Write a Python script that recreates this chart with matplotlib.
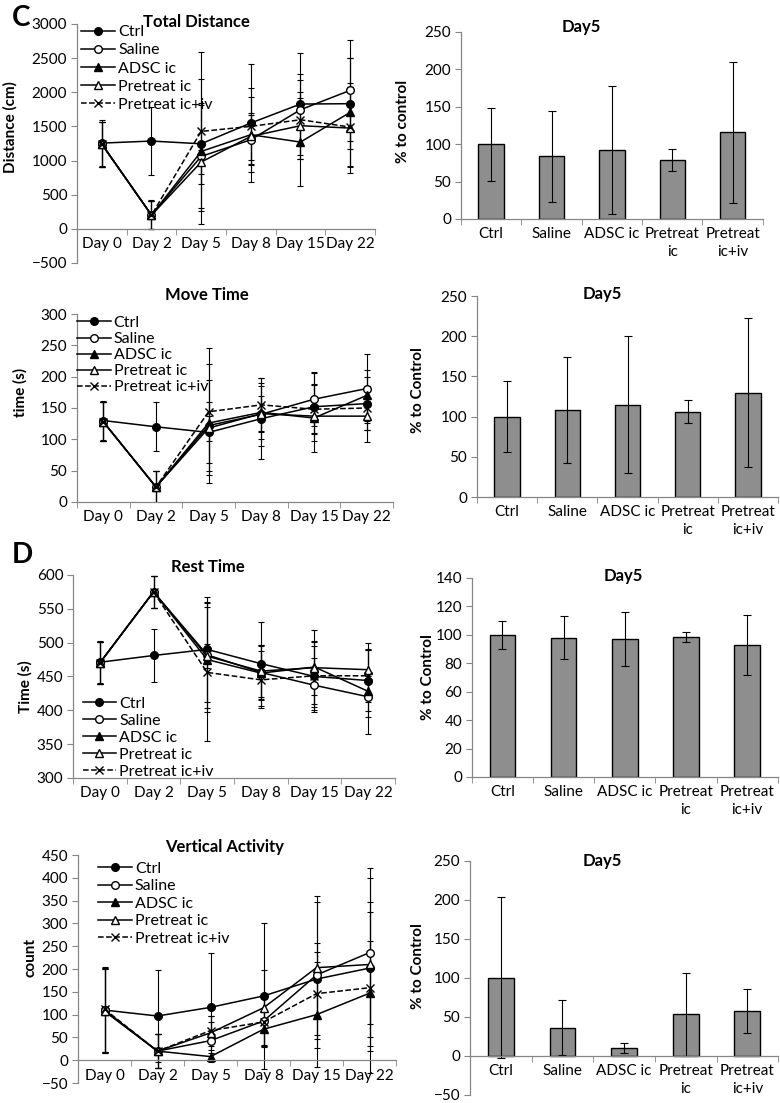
import matplotlib
matplotlib.use("Agg")
import matplotlib.pyplot as plt
import numpy as np

plt.rcParams['font.family'] = ['Lato', 'DejaVu Sans']

days = ["Day 0", "Day 2", "Day 5", "Day 8", "Day 15", "Day 22"]
groups = ["Ctrl", "Saline", "ADSC ic", "Pretreat ic", "Pretreat ic+iv"]
bar_labels = ["Ctrl", "Saline", "ADSC ic", "Pretreat\nic", "Pretreat\nic+iv"]

# total distance (cm)
td_ctrl = [1255, 1285, 1245, 1549, 1827, 1832]
td_saline = [1240, 205, 1060, 1304, 1744, 2027]
td_adsc = [1240, 200, 1133, 1378, 1270, 1705]
td_pre = [1240, 200, 977, 1353, 1510, 1475]
td_preiv = [1240, 200, 1426, 1500, 1597, 1490]
td_ctrl_err = [335, 495, 590, 870, 745, 670]
td_saline_err = [330, 210, 760, 360, 520, 745]
td_adsc_err = [330, 205, 1060, 550, 650, 790]
td_pre_err = [330, 205, 170, 350, 490, 660]
td_preiv_err = [330, 205, 1165, 560, 580, 580]

# move time (s)
mt_ctrl = [130, 120, 111, 133, 152, 157]
mt_saline = [128, 24, 122, 140, 164, 181]
mt_adsc = [128, 24, 126, 143, 134, 170]
mt_pre = [128, 24, 118, 141, 137, 137]
mt_preiv = [128, 24, 144, 155, 148, 150]
mt_ctrl_err = [31, 39, 48, 65, 55, 42]
mt_saline_err = [31, 26, 72, 50, 42, 55]
mt_adsc_err = [31, 26, 95, 42, 54, 40]
mt_pre_err = [31, 26, 20, 28, 28, 41]
mt_preiv_err = [31, 26, 101, 43, 38, 35]

# rest time (s)
rt_ctrl = [471, 481, 490, 469, 450, 444]
rt_saline = [470, 575, 482, 456, 437, 420]
rt_adsc = [470, 575, 475, 455, 464, 428]
rt_pre = [470, 575, 480, 458, 463, 460]
rt_preiv = [470, 575, 456, 445, 451, 451]
rt_ctrl_err = [31, 39, 77, 62, 45, 45]
rt_saline_err = [31, 24, 78, 40, 40, 30]
rt_adsc_err = [31, 24, 78, 40, 55, 63]
rt_pre_err = [31, 24, 18, 38, 40, 40]
rt_preiv_err = [31, 24, 102, 42, 50, 38]

# vertical activity (count)
va_ctrl = [110, 97, 116, 141, 178, 202]
va_saline = [110, 20, 43, 86, 187, 236]
va_adsc = [108, 20, 8, 68, 100, 147]
va_pre = [108, 20, 60, 115, 203, 210]
va_preiv = [112, 20, 65, 84, 146, 159]
va_ctrl_err = [93, 101, 120, 161, 80, 123]
va_saline_err = [93, 37, 40, 55, 160, 185]
va_adsc_err = [93, 37, 8, 38, 115, 115]
va_pre_err = [93, 37, 38, 83, 157, 190]
va_preiv_err = [93, 37, 33, 50, 91, 187]

# day 5, % to control
b1_vals = [100, 84, 92, 79, 116]
b1_err = [49, 61, 86, 14.5, 94.5]
b2_vals = [100, 108, 115, 106, 130]
b2_err = [44, 66, 85, 14.5, 93]
b3_vals = [100, 98, 97, 98.5, 93]
b3_err = [9.7, 15, 19, 3.3, 21]
b4_vals = [100, 36, 10, 53, 57]
b4_err = [103, 35.5, 6.7, 53, 28.4]

GREY = "#868686"
styles = [
    dict(marker='o', mfc='black', ls='-'),
    dict(marker='o', mfc='white', ls='-'),
    dict(marker='^', mfc='black', ls='-'),
    dict(marker='^', mfc='white', ls='-'),
    dict(marker='x', mfc='black', ls='--'),
]

fig = plt.figure(figsize=(7.8, 11.03), dpi=100)


def style_axes(ax, n, ylim, step):
    ax.set_xlim(-0.5, n - 0.5)
    ax.set_ylim(*ylim)
    ax.set_yticks(np.arange(ylim[0], ylim[1] + 0.1, step))
    for s in ['top', 'right']:
        ax.spines[s].set_visible(False)
    for s in ['left', 'bottom']:
        ax.spines[s].set_color(GREY)
        ax.spines[s].set_linewidth(0.9)
    if ylim[0] < 0:
        ax.spines['bottom'].set_position(('data', 0))
    ax.set_xticks(range(n))
    ax.set_xticks(np.arange(-0.5, n, 1.0), minor=True)
    ax.tick_params(axis='x', which='major', length=0, pad=6, labelsize=11)
    ax.tick_params(axis='x', which='minor', length=4, color=GREY, direction='out')
    ax.tick_params(axis='y', length=4, color=GREY, labelsize=11, pad=3)


def line_panel(rect, title, ylabel, series, errs, ylim, step, tpos, lpos, lsp, lab):
    ax = fig.add_axes(rect)
    x = np.arange(len(days))
    for vals, err, st, name in zip(series, errs, styles, groups):
        ax.errorbar(x, vals, yerr=err, color='black', lw=1.1, ls=st['ls'],
                    marker=st['marker'], mfc=st['mfc'], mec='black', ms=5.5,
                    ecolor='black', elinewidth=0.8, capsize=2.5, capthick=0.8,
                    label=name)
    style_axes(ax, len(days), ylim, step)
    ax.set_xticklabels(days)
    ax.text(tpos[0], tpos[1], title, transform=ax.transAxes, ha='center',
            va='center', fontsize=12, fontweight='bold')
    ax.set_ylabel(ylabel, fontsize=11, fontweight='bold')
    ax.yaxis.set_label_coords(lab[0], lab[1])
    h, l = ax.get_legend_handles_labels()
    h = [hh[0] for hh in h]
    ax.legend(h, l, loc='upper left', bbox_to_anchor=lpos, frameon=False,
              fontsize=11.5, labelspacing=lsp, handlelength=2.1,
              handletextpad=0.2, borderpad=0, borderaxespad=0)
    return ax


def bar_panel(rect, vals, err, ylim, step, ylabel, tpos, lab):
    ax = fig.add_axes(rect)
    x = np.arange(len(bar_labels))
    ax.bar(x, vals, width=0.42, color='#8e8e8e', edgecolor='black', lw=1.0,
           yerr=err, error_kw=dict(ecolor='black', elinewidth=0.8, capsize=3,
                                   capthick=0.8))
    style_axes(ax, len(bar_labels), ylim, step)
    ax.set_xticklabels(bar_labels, linespacing=1.35, va='top')
    ax.text(tpos[0], tpos[1], "Day5", transform=ax.transAxes, ha='center',
            va='center', fontsize=12, fontweight='bold')
    ax.set_ylabel(ylabel, fontsize=11, fontweight='bold')
    ax.yaxis.set_label_coords(lab[0], lab[1])
    return ax


line_panel([0.0987, 0.7616, 0.382, 0.2167], "Total Distance", "Distance (cm)",
           [td_ctrl, td_saline, td_adsc, td_pre, td_preiv],
           [td_ctrl_err, td_saline_err, td_adsc_err, td_pre_err, td_preiv_err],
           (-500, 3000), 500, (0.40, 1.008), (0.015, 0.995), 0.25, (-0.2, 0.57))
line_panel([0.0987, 0.5449, 0.405, 0.1704], "Move Time", "time (s)",
           [mt_ctrl, mt_saline, mt_adsc, mt_pre, mt_preiv],
           [mt_ctrl_err, mt_saline_err, mt_adsc_err, mt_pre_err, mt_preiv_err],
           (0, 300), 50, (0.41, 1.10), (0.0, 0.99), 0.12, (-0.155, 0.585))
line_panel([0.0936, 0.2947, 0.4128, 0.184], "Rest Time", "Time (s)",
           [rt_ctrl, rt_saline, rt_adsc, rt_pre, rt_preiv],
           [rt_ctrl_err, rt_saline_err, rt_adsc_err, rt_pre_err, rt_preiv_err],
           (300, 600), 50, (0.42, 1.04), (0.03, 0.40), 0.17, (-0.127, 0.45))
line_panel([0.1, 0.0181, 0.4077, 0.2067], "Vertical Activity", "count",
           [va_ctrl, va_saline, va_adsc, va_pre, va_preiv],
           [va_ctrl_err, va_saline_err, va_adsc_err, va_pre_err, va_preiv_err],
           (-50, 450), 50, (0.46, 1.035), (0.063, 0.97), 0.2, (-0.126, 0.55))

bar_panel([0.591, 0.8015, 0.387, 0.1695], b1_vals, b1_err, (0, 250), 50,
          "% to control", (0.40, 1.027), (-0.17, 0.52))
bar_panel([0.6115, 0.5494, 0.386, 0.1822], b2_vals, b2_err, (0, 250), 50,
          "% to Control", (0.415, 1.01), (-0.173, 0.53))
bar_panel([0.605, 0.2956, 0.392, 0.1804], b3_vals, b3_err, (0, 140), 20,
          "% to Control", (0.495, 1.01), (-0.12, 0.5))
bar_panel([0.6026, 0.0075, 0.395, 0.2122], b4_vals, b4_err, (-50, 250), 50,
          "% to Control", (0.43, 1.0), (-0.146, 0.55))

fig.text(12 / 780, 1 - 18 / 1103, "C", fontsize=20, fontweight='bold',
         ha='left', va='center')
fig.text(12 / 780, 1 - 555 / 1103, "D", fontsize=20, fontweight='bold',
         ha='left', va='center')

fig.savefig("out.png", dpi=100)
